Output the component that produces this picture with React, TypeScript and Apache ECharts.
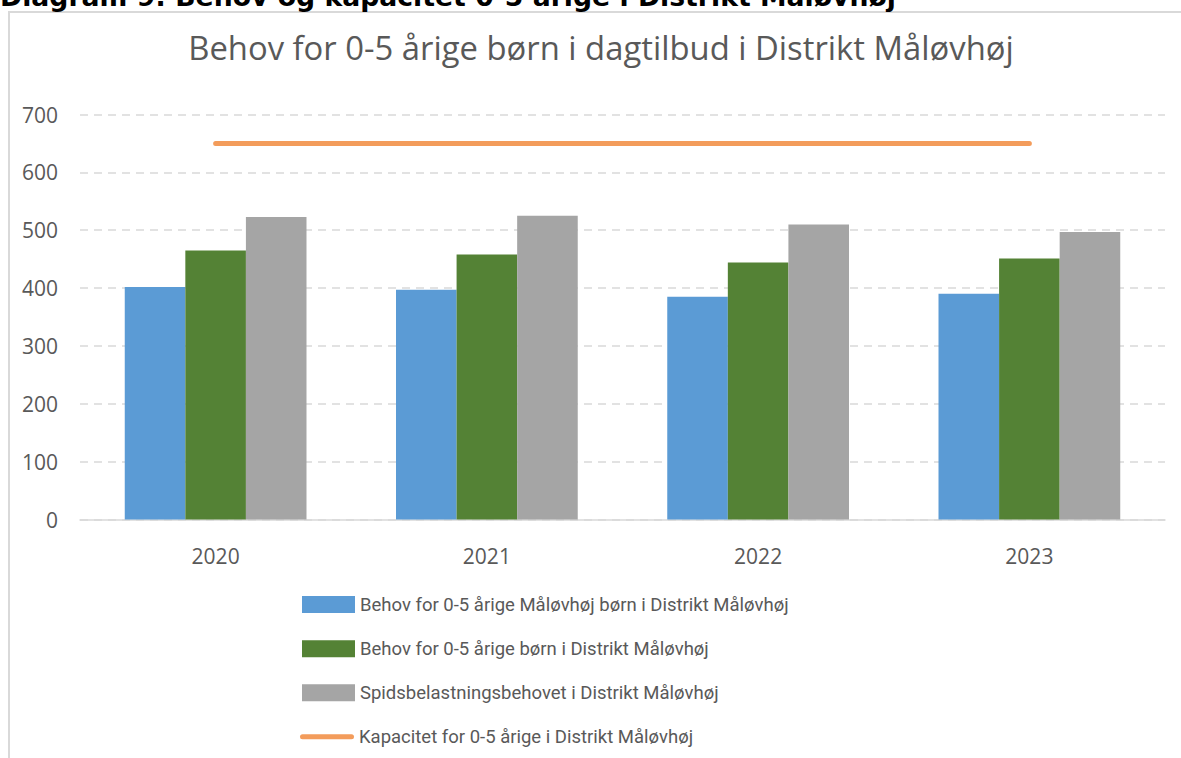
import React, { useEffect, useRef } from "react";
import * as echarts from "echarts";

const categories = ["2020", "2021", "2022", "2023"];
const behovMaalovhojBorn = [402, 397, 385, 390];
const behovDistrikt = [465, 458, 444, 451];
const spidsbelastning = [523, 525, 510, 497];
const kapacitet = [650, 650, 650, 650];

const seriesNames = [
  "Behov for 0-5 årige Måløvhøj børn i Distrikt Måløvhøj",
  "Behov for 0-5 årige børn i Distrikt Måløvhøj",
  "Spidsbelastningsbehovet i Distrikt Måløvhøj",
  "Kapacitet for 0-5 årige i Distrikt Måløvhøj",
];

const legendCenters = [603.5, 647.7, 691.7, 735.7];

const FONT = "'Open Sans', sans-serif";
const LEGEND_FONT = "Roboto, 'Open Sans', sans-serif";
const TEXT = "#595959";
const COLORS = ["#5B9BD5", "#548235", "#A5A5A5", "#F39C5B"];

const LINE_ICON =
  "path://M2.5,0 L51.5,0 A2.5,2.5 0 0 1 51.5,5 L2.5,5 A2.5,2.5 0 0 1 2.5,0 Z";

export default function App() {
  const ref = useRef<HTMLDivElement>(null);
  useEffect(() => {
    if (!ref.current) return;
    const chart = echarts.init(ref.current, undefined, { renderer: "svg" });
    const legends = seriesNames.map((name, i) => ({
      orient: "vertical",
      left: i === 3 ? 300 : 302,
      top: legendCenters[i] - 8.5,
      padding: 0,
      itemWidth: i === 3 ? 54 : 53,
      itemHeight: i === 3 ? 5 : 17,
      textStyle: { fontSize: 18.5, color: TEXT, fontFamily: LEGEND_FONT, lineHeight: 17 },
      data: [{ name, icon: i === 3 ? LINE_ICON : "rect" }],
    }));
    chart.setOption({
      animation: false,
      backgroundColor: "#ffffff",
      textStyle: { fontFamily: FONT, color: TEXT },
      graphic: [
        {
          type: "polyline",
          shape: { points: [[9, 800], [9, 12], [1185, 12]] },
          style: { stroke: "#d9d9d9", lineWidth: 2, fill: "none" },
        },
        {
          type: "text",
          x: 0,
          y: -3.3,
          style: {
            text: "Diagram 9: Behov og kapacitet 0-5 årige i Distrikt Måløvhøj",
            font: "bold 26.7px 'DejaVu Sans'",
            fill: "#000000",
            textAlign: "left",
            textVerticalAlign: "middle",
          },
        },
        {
          type: "text",
          x: 601,
          y: 47,
          style: {
            text: "Behov for 0-5 årige børn i dagtilbud i Distrikt Måløvhøj",
            font: "32.8px " + FONT,
            fill: TEXT,
            textAlign: "center",
            textVerticalAlign: "middle",
          },
        },
      ],
      grid: { left: 80, right: 16, top: 114.5, bottom: 238.5, containLabel: false },
      legend: legends,
      xAxis: {
        type: "category",
        data: categories,
        axisLine: { lineStyle: { color: "#d9d9d9", width: 1.5 } },
        axisTick: { show: false },
        axisLabel: { fontSize: 21, color: TEXT, margin: 26 },
      },
      yAxis: {
        type: "value",
        min: 0,
        max: 700,
        interval: 100,
        axisLine: { show: false },
        axisTick: { show: false },
        axisLabel: { fontSize: 21, color: TEXT, margin: 22 },
        splitLine: { lineStyle: { color: "#d9d9d9", width: 1.5, type: [8, 6] } },
      },
      series: [
        {
          name: seriesNames[0],
          type: "bar",
          data: behovMaalovhojBorn,
          itemStyle: { color: COLORS[0] },
          barGap: "0%",
          barCategoryGap: "33%",
        },
        {
          name: seriesNames[1],
          type: "bar",
          data: behovDistrikt,
          itemStyle: { color: COLORS[1] },
          barGap: "0%",
          barCategoryGap: "33%",
        },
        {
          name: seriesNames[2],
          type: "bar",
          data: spidsbelastning,
          itemStyle: { color: COLORS[2] },
          barGap: "0%",
          barCategoryGap: "33%",
        },
        {
          name: seriesNames[3],
          type: "line",
          data: kapacitet,
          symbol: "none",
          itemStyle: { color: COLORS[3] },
          lineStyle: { color: COLORS[3], width: 5, cap: "round" },
        },
      ],
    });
    return () => chart.dispose();
  }, []);
  return (
    <div
      ref={ref}
      style={{ position: "fixed", left: 0, top: 0, width: 1181, height: 758 }}
    />
  );
}
